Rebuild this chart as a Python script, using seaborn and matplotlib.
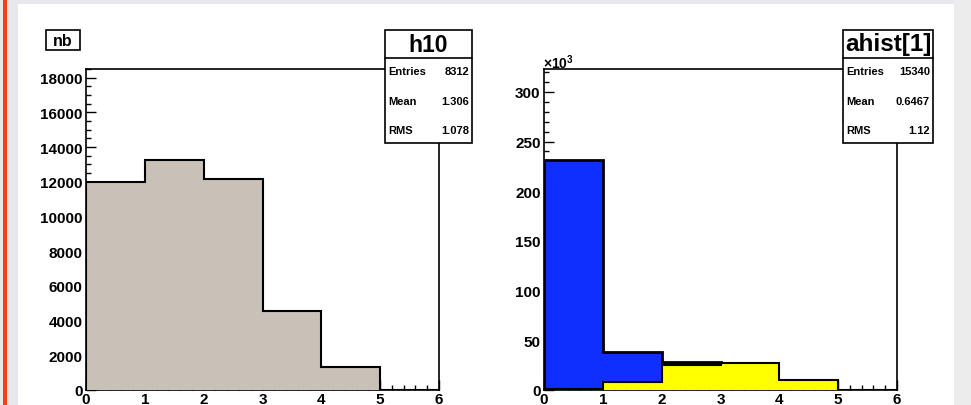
import numpy as np
import matplotlib
matplotlib.use("Agg")
import matplotlib.pyplot as plt
import seaborn as sns
from matplotlib.patches import Rectangle
from matplotlib.lines import Line2D
from matplotlib.ticker import MultipleLocator, FuncFormatter

# ---- data -------------------------------------------------------------
bin_edges = [0, 1, 2, 3, 4, 5, 6]
x_ticks = [0, 1, 2, 3, 4, 5, 6]

h10_counts = [12000, 13250, 12150, 4550, 1350, 0]

ahist_blue = [231000, 38500, 27800, 0, 0, 0]
ahist_yellow = [1500, 8400, 25200, 27200, 10400, 0]

h10_title = "h10"
h10_stats = [("Entries", "8312"), ("Mean", "1.306"), ("RMS", "1.078")]
ahist_title = "ahist[1]"
ahist_stats = [("Entries", "15340"), ("Mean", "0.6467"), ("RMS", "1.12")]
pad_label = "nb"

# ---- style -------------------------------------------------------------
W, H = 971, 406
sns.set_theme(style="ticks")
plt.rcParams["font.family"] = ["Liberation Sans", "DejaVu Sans"]
plt.rcParams["font.weight"] = "bold"
plt.rcParams["text.color"] = "black"
plt.rcParams["axes.labelcolor"] = "black"
plt.rcParams["xtick.color"] = "black"
plt.rcParams["ytick.color"] = "black"
plt.rcParams["mathtext.fontset"] = "custom"
plt.rcParams["mathtext.rm"] = "Liberation Sans"
plt.rcParams["mathtext.bf"] = "Liberation Sans:bold"

fig = plt.figure(figsize=(W / 100, H / 100), dpi=100, facecolor="#e6e8eb")


def fx(x):
    return x / W


def fy(y):
    return 1 - y / H


def px_axes(x0, y0, x1, y1):
    return fig.add_axes([fx(x0), fy(y1), (x1 - x0) / W, (y1 - y0) / H])


# canvas background pieces
fig.add_artist(Rectangle((fx(18), 0), (954 - 18) / W, (406 - 5) / H,
                         transform=fig.transFigure, facecolor="white",
                         edgecolor="none", zorder=-2))
fig.add_artist(Rectangle((fx(3), 0), 4 / W, 1, transform=fig.transFigure,
                         facecolor="#ff3a1a", edgecolor="none", zorder=-2))
fig.add_artist(Rectangle((fx(954), 0), (W - 954) / W, 1, transform=fig.transFigure,
                         facecolor="#ececec", edgecolor="none", zorder=-2))

centers = np.array(bin_edges[:-1], dtype=float) + 0.5


def style_axes(ax, ymax, ymajor, yminor):
    ax.set_facecolor("white")
    ax.set_xlim(bin_edges[0], bin_edges[-1])
    ax.set_ylim(0, ymax)
    ax.set_xticks(x_ticks)
    ax.xaxis.set_minor_locator(MultipleLocator(0.2))
    ax.yaxis.set_major_locator(MultipleLocator(ymajor))
    ax.yaxis.set_minor_locator(MultipleLocator(yminor))
    ax.tick_params(which="both", direction="in", top=False, right=False,
                   colors="black", labelsize=11, width=1)
    ax.tick_params(which="major", length=7)
    ax.tick_params(which="minor", length=3.5)
    ax.tick_params(axis="y", pad=2.5)
    ax.tick_params(axis="x", pad=1.5)
    for lab in ax.get_xticklabels() + ax.get_yticklabels():
        lab.set_fontweight("bold")
    for s in ax.spines.values():
        s.set_visible(True)
        s.set_color("black")
        s.set_linewidth(1.2)
        s.set_zorder(1.5)
    ax.set_axisbelow(True)
    ax.set_xlabel("")
    ax.set_ylabel("")
    if ax.get_legend() is not None:
        ax.get_legend().remove()


def draw_hist(ax, counts, color, lw, z):
    sns.histplot(x=centers, weights=counts, bins=bin_edges, element="step",
                 fill=True, color=color, alpha=1, linewidth=0, ax=ax, zorder=z)
    ax.stairs(counts, bin_edges, baseline=0, color="black", linewidth=lw,
              zorder=z + 0.1)


# ---- left pad: h10 ----------------------------------------------------
ax1 = px_axes(86, 70, 439, 391)
draw_hist(ax1, h10_counts, "#c9c1b8", 1.5, 2)
style_axes(ax1, 18500, 2000, 500)

# ---- right pad: ahist with its two filled components -------------------
ax2 = px_axes(544, 70, 897, 391)
draw_hist(ax2, ahist_blue, "#0f2fff", 2.0, 2)
draw_hist(ax2, ahist_yellow, "#ffff00", 1.5, 3)
style_axes(ax2, 323000, 50000, 10000)
ax2.yaxis.set_major_formatter(FuncFormatter(lambda v, p: f"{v / 1000:g}"))
for lab in ax2.get_yticklabels():
    lab.set_fontweight("bold")

fig.text(fx(543), fy(69), r"$\times\mathbf{10}^{\mathbf{3}}$", fontsize=10,
         ha="left", va="baseline", color="black")


# ---- stats boxes and pad label ----------------------------------------
def box(x0, y0, x1, y1, lw=1.2):
    fig.add_artist(Rectangle((fx(x0), fy(y1)), (x1 - x0) / W, (y1 - y0) / H,
                             transform=fig.transFigure, facecolor="white",
                             edgecolor="black", linewidth=lw, zorder=5))


def stats_box(x0, x1, title, rows, tsize):
    y0, y1, sep = 31, 144, 58.5
    box(x0, y0, x1, y1)
    fig.add_artist(Line2D([fx(x0), fx(x1)], [fy(sep), fy(sep)],
                          transform=fig.transFigure, color="black",
                          linewidth=1.2, zorder=6))
    fig.text(fx((x0 + x1) / 2), fy(45), title, fontsize=tsize,
             fontweight="bold", ha="center", va="center", zorder=7,
             color="black")
    for (name, val), yc in zip(rows, [72, 102, 131]):
        fig.text(fx(x0 + 3), fy(yc), name, fontsize=8, fontweight="bold",
                 ha="left", va="center", zorder=7, color="black")
        fig.text(fx(x1 - 3), fy(yc), val, fontsize=8, fontweight="bold",
                 ha="right", va="center", zorder=7, color="black")


stats_box(385, 472, h10_title, h10_stats, 16.5)
stats_box(843, 933, ahist_title, ahist_stats, 17.5)

box(46, 31, 80, 51)
fig.text(fx(63), fy(41), pad_label, fontsize=11.5, fontweight="bold",
         ha="center", va="center", zorder=7, color="black")

fig.savefig("out.png", dpi=100, facecolor=fig.get_facecolor())
